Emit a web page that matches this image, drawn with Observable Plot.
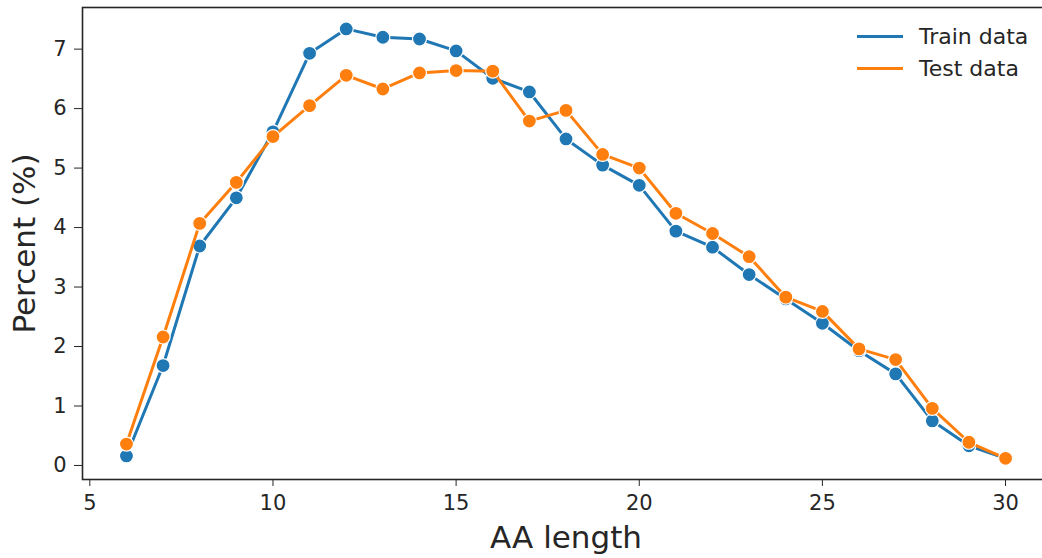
<!DOCTYPE html>
<html>
<head>
<meta charset="utf-8">
<script src="https://cdn.jsdelivr.net/npm/d3@7"></script>
<script src="https://cdn.jsdelivr.net/npm/@observablehq/plot@0.6"></script>
<style>
  html, body { margin: 0; padding: 0; background: #fff; overflow: hidden; }
  #wrap { position: relative; width: 1042px; height: 558px; font-family: "DejaVu Sans", sans-serif; }
  #wrap svg { overflow: hidden; }
  #legend { position: absolute; left: 857px; top: 20px; color: #262626; font-size: 22px; }
  .row { display: flex; align-items: center; height: 32px; }
  .sw { width: 46px; height: 3px; margin-right: 16px; }
</style>
</head>
<body>
<div id="wrap">
  <div id="legend"></div>
</div>
<script>
// AA length categories
const lengths = [6, 7, 8, 9, 10, 11, 12, 13, 14, 15, 16, 17, 18, 19, 20, 21, 22, 23, 24, 25, 26, 27, 28, 29, 30];
// Percent (%) per length
const trainPct = [0.16, 1.68, 3.69, 4.50, 5.61, 6.93, 7.34, 7.20, 7.17, 6.97, 6.51, 6.28, 5.49, 5.05, 4.71, 3.94, 3.67, 3.21, 2.80, 2.39, 1.93, 1.54, 0.75, 0.33, 0.12];
const testPct  = [0.36, 2.16, 4.07, 4.76, 5.53, 6.05, 6.56, 6.33, 6.60, 6.64, 6.63, 5.79, 5.97, 5.23, 5.00, 4.24, 3.90, 3.51, 2.83, 2.59, 1.96, 1.78, 0.96, 0.39, 0.12];
const seriesNames = ["Train data", "Test data"];
const seriesColors = ["#1f77b4", "#ff7f0e"];
const xTicks = [5, 10, 15, 20, 25, 30];
const yTicks = [0, 1, 2, 3, 4, 5, 6, 7];
const xLabel = "AA length";
const yLabel = "Percent (%)";

const train = lengths.map((x, i) => ({x, y: trainPct[i]}));
const test = lengths.map((x, i) => ({x, y: testPct[i]}));

const chart = Plot.plot({
  width: 1042,
  height: 558,
  marginLeft: 82,
  marginRight: -7,
  marginTop: 7,
  marginBottom: 79,
  style: {fontFamily: "DejaVu Sans, sans-serif", fontSize: "21px", color: "#262626", background: "white"},
  x: {domain: [4.8, 31.2], ticks: xTicks, tickSize: 7, tickPadding: 9, label: null, tickFormat: d => String(d)},
  y: {domain: [-0.236, 7.70], ticks: yTicks, tickSize: 8, tickPadding: 8, label: null, tickFormat: d => String(d)},
  marks: [
    Plot.frame({stroke: "#262626", strokeWidth: 1.6}),
    Plot.line(train, {x: "x", y: "y", stroke: seriesColors[0], strokeWidth: 3}),
    Plot.dot(train, {x: "x", y: "y", r: 7, fill: seriesColors[0], stroke: "white", strokeWidth: 1.2}),
    Plot.line(test, {x: "x", y: "y", stroke: seriesColors[1], strokeWidth: 3}),
    Plot.dot(test, {x: "x", y: "y", r: 7, fill: seriesColors[1], stroke: "white", strokeWidth: 1.2}),
    Plot.text([xLabel], {text: d => d, frameAnchor: "bottom", textAnchor: "middle", lineAnchor: "bottom", dy: 68, fontSize: 31, fill: "#262626"}),
    Plot.text([yLabel], {text: d => d, frameAnchor: "left", textAnchor: "middle", lineAnchor: "middle", rotate: -90, dx: -57, fontSize: 31, fill: "#262626"})
  ]
});
document.getElementById("wrap").appendChild(chart);

const legend = document.getElementById("legend");
seriesNames.forEach((name, i) => {
  const row = document.createElement("div");
  row.className = "row";
  const sw = document.createElement("div");
  sw.className = "sw";
  sw.style.background = seriesColors[i];
  const t = document.createElement("span");
  t.textContent = name;
  row.appendChild(sw);
  row.appendChild(t);
  legend.appendChild(row);
});
</script>
</body>
</html>
